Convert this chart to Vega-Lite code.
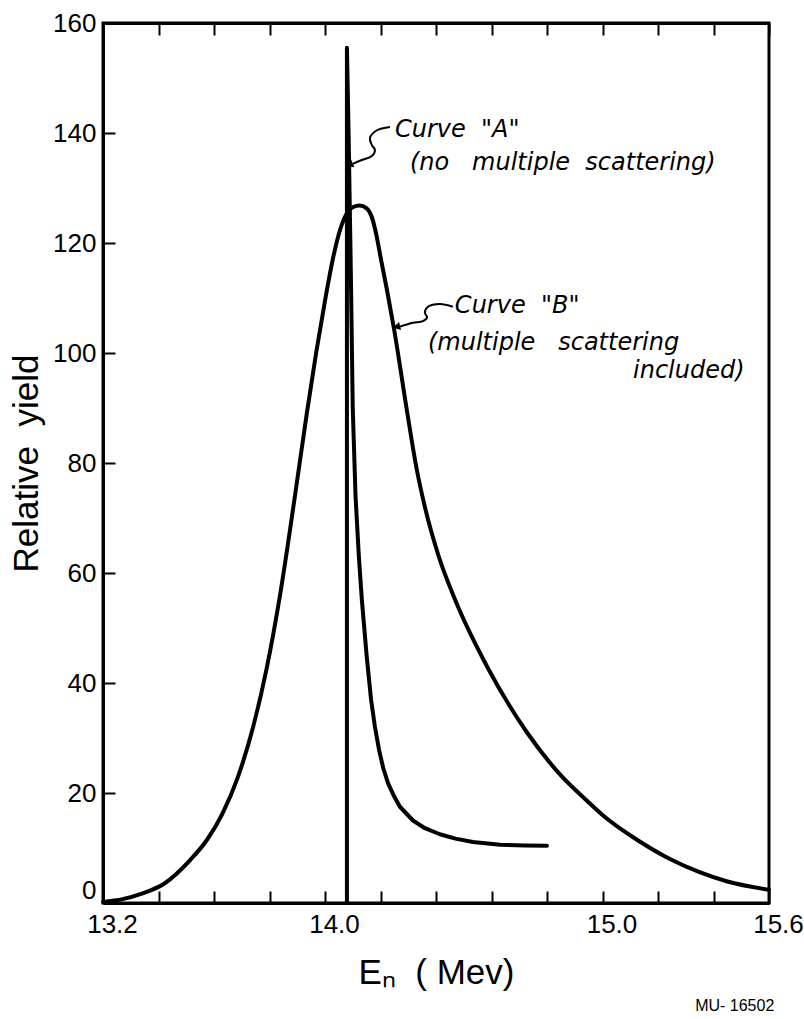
{
  "$schema": "https://vega.github.io/schema/vega-lite/v6.json",
  "width": 666,
  "height": 880,
  "autosize": {"type": "none"},
  "padding": {"left": 103, "top": 23, "right": 35, "bottom": 116},
  "background": "white",
  "view": {"stroke": "black", "strokeWidth": 3},
  "config": {"font": "Liberation Sans"},
  "title": {"text": "MU- 16502", "orient": "bottom", "anchor": "end", "fontSize": 16, "fontWeight": "normal", "font": "Liberation Sans", "color": "black", "offset": 8, "dx": -29},
  "datasets": {
    "curves": [
      {"curve": "A", "i": 0, "E": 14.079, "Y": 0},
      {"curve": "A", "i": 1, "E": 14.079, "Y": 155.5},
      {"curve": "A", "i": 2, "E": 14.085, "Y": 140},
      {"curve": "A", "i": 3, "E": 14.093, "Y": 115},
      {"curve": "A", "i": 4, "E": 14.1, "Y": 90},
      {"curve": "A", "i": 5, "E": 14.11, "Y": 74},
      {"curve": "A", "i": 6, "E": 14.122, "Y": 63},
      {"curve": "A", "i": 7, "E": 14.133, "Y": 55},
      {"curve": "A", "i": 8, "E": 14.15, "Y": 45},
      {"curve": "A", "i": 9, "E": 14.166, "Y": 37},
      {"curve": "A", "i": 10, "E": 14.18, "Y": 32},
      {"curve": "A", "i": 11, "E": 14.195, "Y": 27.8},
      {"curve": "A", "i": 12, "E": 14.21, "Y": 24.5},
      {"curve": "A", "i": 13, "E": 14.227, "Y": 21.8},
      {"curve": "A", "i": 14, "E": 14.25, "Y": 19.3},
      {"curve": "A", "i": 15, "E": 14.27, "Y": 17.5},
      {"curve": "A", "i": 16, "E": 14.317, "Y": 15},
      {"curve": "A", "i": 17, "E": 14.36, "Y": 13.6},
      {"curve": "A", "i": 18, "E": 14.414, "Y": 12.5},
      {"curve": "A", "i": 19, "E": 14.47, "Y": 11.7},
      {"curve": "A", "i": 20, "E": 14.533, "Y": 11.1},
      {"curve": "A", "i": 21, "E": 14.631, "Y": 10.6},
      {"curve": "A", "i": 22, "E": 14.72, "Y": 10.45},
      {"curve": "A", "i": 23, "E": 14.8, "Y": 10.4},
      {"curve": "B", "i": 0, "E": 13.2, "Y": 0.2},
      {"curve": "B", "i": 1, "E": 13.27, "Y": 0.7},
      {"curve": "B", "i": 2, "E": 13.34, "Y": 1.7},
      {"curve": "B", "i": 3, "E": 13.42, "Y": 3.5},
      {"curve": "B", "i": 4, "E": 13.514, "Y": 7.8},
      {"curve": "B", "i": 5, "E": 13.575, "Y": 11.5},
      {"curve": "B", "i": 6, "E": 13.63, "Y": 16.2},
      {"curve": "B", "i": 7, "E": 13.686, "Y": 22.9},
      {"curve": "B", "i": 8, "E": 13.74, "Y": 31.8},
      {"curve": "B", "i": 9, "E": 13.79, "Y": 42.7},
      {"curve": "B", "i": 10, "E": 13.84, "Y": 56.6},
      {"curve": "B", "i": 11, "E": 13.89, "Y": 73.4},
      {"curve": "B", "i": 12, "E": 13.935, "Y": 89.2},
      {"curve": "B", "i": 13, "E": 13.968, "Y": 100},
      {"curve": "B", "i": 14, "E": 14.0, "Y": 109.5},
      {"curve": "B", "i": 15, "E": 14.03, "Y": 117.5},
      {"curve": "B", "i": 16, "E": 14.055, "Y": 122.5},
      {"curve": "B", "i": 17, "E": 14.08, "Y": 125.5},
      {"curve": "B", "i": 18, "E": 14.1, "Y": 126.5},
      {"curve": "B", "i": 19, "E": 14.125, "Y": 126.8},
      {"curve": "B", "i": 20, "E": 14.15, "Y": 126.3},
      {"curve": "B", "i": 21, "E": 14.17, "Y": 124.5},
      {"curve": "B", "i": 22, "E": 14.185, "Y": 121.5},
      {"curve": "B", "i": 23, "E": 14.2, "Y": 117.5},
      {"curve": "B", "i": 24, "E": 14.225, "Y": 111},
      {"curve": "B", "i": 25, "E": 14.25, "Y": 104},
      {"curve": "B", "i": 26, "E": 14.295, "Y": 89.6},
      {"curve": "B", "i": 27, "E": 14.33, "Y": 79},
      {"curve": "B", "i": 28, "E": 14.36, "Y": 72},
      {"curve": "B", "i": 29, "E": 14.41, "Y": 63},
      {"curve": "B", "i": 30, "E": 14.47, "Y": 55},
      {"curve": "B", "i": 31, "E": 14.584, "Y": 43},
      {"curve": "B", "i": 32, "E": 14.728, "Y": 31},
      {"curve": "B", "i": 33, "E": 14.85, "Y": 23.2},
      {"curve": "B", "i": 34, "E": 14.944, "Y": 18.6},
      {"curve": "B", "i": 35, "E": 15.0, "Y": 16.0},
      {"curve": "B", "i": 36, "E": 15.124, "Y": 11.5},
      {"curve": "B", "i": 37, "E": 15.243, "Y": 8.0},
      {"curve": "B", "i": 38, "E": 15.35, "Y": 5.6},
      {"curve": "B", "i": 39, "E": 15.45, "Y": 3.9},
      {"curve": "B", "i": 40, "E": 15.6, "Y": 2.4}
    ],
    "arrows": [
      {"arrow": "A", "i": 0, "E": 14.234, "Y": 141.1},
      {"arrow": "A", "i": 1, "E": 14.187, "Y": 140.5},
      {"arrow": "A", "i": 2, "E": 14.162, "Y": 139.1},
      {"arrow": "A", "i": 3, "E": 14.169, "Y": 137.8},
      {"arrow": "A", "i": 4, "E": 14.18, "Y": 136.9},
      {"arrow": "A", "i": 5, "E": 14.169, "Y": 135.8},
      {"arrow": "A", "i": 6, "E": 14.133, "Y": 135.1},
      {"arrow": "A", "i": 7, "E": 14.1, "Y": 134.4},
      {"arrow": "B", "i": 0, "E": 14.461, "Y": 108.4},
      {"arrow": "B", "i": 1, "E": 14.414, "Y": 108.9},
      {"arrow": "B", "i": 2, "E": 14.371, "Y": 108.4},
      {"arrow": "B", "i": 3, "E": 14.36, "Y": 107.3},
      {"arrow": "B", "i": 4, "E": 14.368, "Y": 106.5},
      {"arrow": "B", "i": 5, "E": 14.353, "Y": 105.8},
      {"arrow": "B", "i": 6, "E": 14.317, "Y": 105.5},
      {"arrow": "B", "i": 7, "E": 14.27, "Y": 104.8}
    ],
    "heads": [
      {"arrow": "A", "E": 14.092, "Y": 134.3},
      {"arrow": "B", "E": 14.262, "Y": 104.8}
    ],
    "labels": [
      {"text": "Curve\u00a0\u00a0\"A\"", "E": 14.252, "Y": 139.3},
      {"text": "(no\u00a0\u00a0\u00a0multiple\u00a0\u00a0scattering)", "E": 14.306, "Y": 133.3},
      {"text": "Curve\u00a0\u00a0\"B\"", "E": 14.468, "Y": 107.3},
      {"text": "(multiple\u00a0\u00a0\u00a0scattering", "E": 14.371, "Y": 100.5},
      {"text": "included)", "E": 15.11, "Y": 95.5}
    ]
  },
  "layer": [
    {
      "data": {"name": "curves"},
      "transform": [{"filter": "datum.curve === 'B'"}],
      "mark": {"type": "line", "color": "black", "strokeWidth": 4, "interpolate": "monotone", "strokeCap": "round", "strokeJoin": "round"},
      "encoding": {
        "x": {"field": "E", "type": "quantitative", "scale": {"domain": [13.2, 15.6], "nice": false, "zero": false},
          "axis": {"orient": "bottom", "values": [13.2, 13.4, 13.6, 13.8, 14.0, 14.2, 14.4, 14.6, 14.8, 15.0, 15.2, 15.4, 15.6],
            "format": ".1f", "labelExpr": "indexof([13.2, 14, 15, 15.6], datum.value) >= 0 ? datum.label : ''",
            "title": "Eₙ\u00a0\u00a0( Mev)", "titleFontSize": 35, "titleFontWeight": "normal", "titleColor": "black", "titlePadding": 18,
            "tickSize": -12, "tickWidth": 2, "tickColor": "black", "domainWidth": 3, "domainColor": "black",
            "labelFontSize": 26, "labelColor": "black", "labelPadding": 20, "labelOffset": 9, "labelFlush": false, "labelOverlap": false, "grid": false}},
        "y": {"field": "Y", "type": "quantitative", "scale": {"domain": [0, 160], "nice": false, "zero": false},
          "axis": {"orient": "left", "values": [0, 20, 40, 60, 80, 100, 120, 140, 160],
            "title": "Relative\u00a0\u00a0yield", "titleFontSize": 35, "titleFontWeight": "normal", "titleColor": "black", "titlePadding": 8,
            "tickSize": -12, "tickWidth": 2, "tickColor": "black", "domainWidth": 3, "domainColor": "black",
            "labelBaseline": {"condition": {"test": "datum.value === 0", "value": "bottom"}, "value": "middle"},
            "labelFontSize": 26, "labelColor": "black", "labelPadding": 19, "labelFlush": false, "labelOverlap": false, "grid": false}},
        "order": {"field": "i", "type": "quantitative"}
      }
    },
    {
      "data": {"name": "curves"},
      "transform": [{"filter": "datum.curve === 'A'"}],
      "mark": {"type": "line", "color": "black", "strokeWidth": 4, "interpolate": "linear", "strokeCap": "round", "strokeJoin": "round"},
      "encoding": {
        "x": {"field": "E", "type": "quantitative", "axis": null},
        "y": {"field": "Y", "type": "quantitative", "axis": null},
        "order": {"field": "i", "type": "quantitative"}
      }
    },
    {
      "data": {"name": "arrows"},
      "mark": {"type": "line", "color": "black", "strokeWidth": 2, "interpolate": "catmull-rom"},
      "encoding": {
        "x": {"field": "E", "type": "quantitative", "axis": null},
        "y": {"field": "Y", "type": "quantitative", "axis": null},
        "detail": {"field": "arrow"},
        "order": {"field": "i", "type": "quantitative"}
      }
    },
    {
      "data": {"name": "heads"},
      "transform": [{"filter": "datum.arrow === 'A'"}],
      "mark": {"type": "point", "shape": "triangle", "filled": true, "color": "black", "size": 70, "angle": 247, "opacity": 1},
      "encoding": {
        "x": {"field": "E", "type": "quantitative", "axis": null},
        "y": {"field": "Y", "type": "quantitative", "axis": null}
      }
    },
    {
      "data": {"name": "heads"},
      "transform": [{"filter": "datum.arrow === 'B'"}],
      "mark": {"type": "point", "shape": "triangle", "filled": true, "color": "black", "size": 70, "angle": 256, "opacity": 1},
      "encoding": {
        "x": {"field": "E", "type": "quantitative", "axis": null},
        "y": {"field": "Y", "type": "quantitative", "axis": null}
      }
    },
    {
      "data": {"name": "labels"},
      "mark": {"type": "text", "align": "left", "baseline": "alphabetic", "font": "DejaVu Sans", "fontStyle": "italic", "fontSize": 24, "color": "black"},
      "encoding": {
        "x": {"field": "E", "type": "quantitative",
          "axis": {"orient": "top", "values": [13.2, 13.4, 13.6, 13.8, 14.0, 14.2, 14.4, 14.6, 14.8, 15.0, 15.2, 15.4, 15.6],
            "labels": false, "title": null, "tickSize": -12, "tickWidth": 2, "tickColor": "black", "domainWidth": 3, "domainColor": "black", "grid": false}},
        "y": {"field": "Y", "type": "quantitative", "axis": null},
        "text": {"field": "text"}
      }
    }
  ],
  "resolve": {"axis": {"x": "independent", "y": "independent"}}
}
